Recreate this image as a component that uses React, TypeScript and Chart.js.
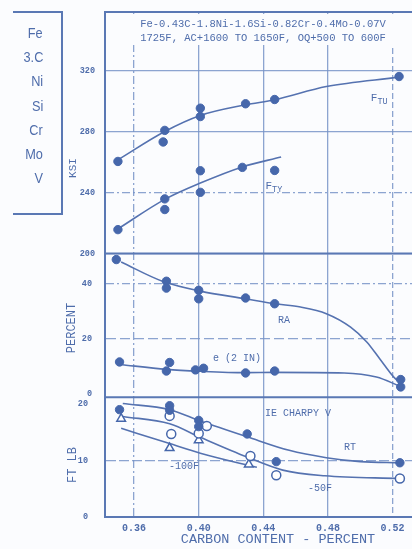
import React, { useEffect, useRef } from 'react';
import { Chart, registerables } from 'chart.js';

Chart.register(...registerables);

// ---------- tick labels ----------
const X_TICKS = [0.36, 0.40, 0.44, 0.48, 0.52];
const KSI_TICKS = [200, 240, 280, 320];
const PCT_TICKS = [0, 20, 40];
const FTLB_TICKS = [0, 10, 20];

// ---------- composition box ----------
const ELEMENTS = ['Fe', '3.C', 'Ni', 'Si', 'Cr', 'Mo', 'V'];

// ---------- strength (KSI) ----------
const FTU_C = [0.350, 0.379, 0.378, 0.401, 0.401, 0.429, 0.447, 0.524];
const FTU_KSI = [260.5, 280.9, 273.3, 295.5, 290.0, 298.4, 301.2, 316.3];
const FTU_CURVE_C = [0.350, 0.379, 0.401, 0.429, 0.447, 0.479, 0.524];
const FTU_CURVE = [261.6, 280.2, 290.7, 297.7, 301.0, 309.7, 315.9];

const FTY_C = [0.350, 0.379, 0.379, 0.401, 0.401, 0.427, 0.447];
const FTY_KSI = [215.7, 235.9, 228.9, 254.4, 240.2, 256.6, 254.6];
const FTY_CURVE_C = [0.350, 0.379, 0.401, 0.427, 0.451];
const FTY_CURVE = [216.2, 235.6, 246.3, 256.9, 263.4];

// ---------- ductility (PERCENT) ----------
const RA_C = [0.349, 0.380, 0.380, 0.400, 0.400, 0.429, 0.447, 0.525];
const RA_PCT = [48.8, 40.9, 38.4, 37.6, 34.5, 34.8, 32.7, 5.1];
const RA_CURVE_C = [0.352, 0.378, 0.401, 0.429, 0.447, 0.463, 0.479, 0.494, 0.504, 0.512, 0.5215, 0.5245];
const RA_CURVE = [47.9, 40.8, 37.3, 34.5, 32.7, 31.5, 29.1, 24.2, 18.8, 12.7, 5.5, 4.2];

const EL_C = [0.351, 0.382, 0.380, 0.398, 0.403, 0.429, 0.447, 0.525];
const EL_PCT = [11.5, 11.3, 8.2, 8.6, 9.2, 7.5, 8.2, 2.4];
const EL_CURVE_C = [0.351, 0.380, 0.401, 0.429, 0.447, 0.490, 0.510, 0.5245];
const EL_CURVE = [10.6, 8.8, 8.1, 7.6, 7.7, 7.5, 6.0, 2.7];

// ---------- Charpy V (FT LB) ----------
const RT_C = [0.351, 0.382, 0.382, 0.400, 0.400, 0.430, 0.448, 0.5245];
const RT_FTLB = [19.0, 19.7, 18.9, 17.1, 16.0, 14.7, 9.8, 9.6];
const RT_CURVE_C = [0.353, 0.382, 0.401, 0.430, 0.456, 0.479, 0.500, 0.5245];
const RT_CURVE = [20.1, 19.0, 17.0, 14.2, 11.8, 10.5, 9.8, 9.6];

const M50_C = [0.382, 0.383, 0.400, 0.405, 0.432, 0.448, 0.5245];
const M50_FTLB = [17.9, 14.7, 14.8, 16.1, 10.8, 7.4, 6.8];
const M50_CURVE_C = [0.353, 0.382, 0.401, 0.430, 0.452, 0.478, 0.5245];
const M50_CURVE = [17.8, 16.5, 14.1, 10.6, 8.3, 7.3, 6.8];

const M100_C = [0.352, 0.382, 0.400, 0.431];
const M100_FTLB = [17.4, 12.2, 13.6, 9.3];
const M100_CURVE_C = [0.352, 0.382, 0.401, 0.430, 0.436];
const M100_CURVE = [15.7, 13.0, 11.3, 9.2, 8.8];

// ---------- styles ----------
const BG = '#fbfcfe';
const POINT = '#4667ab';
const LINE = '#5572b0';
const GRID = 'rgba(120,148,200,0.85)';
const AXIS = '#5a78b4';
const TEXT = '#4f6dab';
const MONO = '"Liberation Mono", "DejaVu Sans Mono", monospace';

const pts = (xs: number[], ys: number[]) => xs.map((x, i) => ({ x, y: ys[i] }));

const curve = (xs: number[], ys: number[], axis: string) => ({
  type: 'line' as const,
  data: pts(xs, ys),
  yAxisID: axis,
  borderColor: LINE,
  borderWidth: 1.6,
  pointRadius: 0,
  fill: false,
  cubicInterpolationMode: 'monotone' as const,
  order: 2,
});

const marks = (xs: number[], ys: number[], axis: string, kind: 'filled' | 'open' | 'tri') => ({
  type: 'scatter' as const,
  data: pts(xs, ys),
  yAxisID: axis,
  showLine: false,
  pointStyle: kind === 'tri' ? 'triangle' : 'circle',
  pointRadius: kind === 'tri' ? 5 : kind === 'open' ? 4.5 : 4.2,
  backgroundColor: kind === 'filled' ? POINT : '#ffffff',
  borderColor: POINT,
  borderWidth: kind === 'filled' ? 1 : 1.5,
  order: 1,
});

const dashFor = (map: Record<string, number[]>) => (ctx: any) => {
  if (!ctx || !ctx.tick) return [];
  return map[String(ctx.tick.value)] || [];
};

const gridColorFor = (hidden: number[]) => (ctx: any) => {
  if (ctx && ctx.tick && hidden.includes(ctx.tick.value)) return 'rgba(0,0,0,0)';
  return GRID;
};

const annotations = {
  id: 'annotations',
  beforeDatasetsDraw(chart: any) {
    const { ctx, chartArea: ca } = chart;
    const yP = chart.scales.yPct;
    ctx.save();
    // clear area behind the header text
    ctx.fillStyle = BG;
    ctx.fillRect(ca.left + 2, ca.top + 2, ca.right - ca.left - 2, 31);
    ctx.strokeStyle = AXIS;
    ctx.lineWidth = 2;
    ctx.beginPath();
    ctx.moveTo(ca.left, ca.top);
    ctx.lineTo(ca.right, ca.top);
    ctx.moveTo(ca.left, yP.top);
    ctx.lineTo(ca.right, yP.top);
    ctx.moveTo(ca.left, yP.bottom);
    ctx.lineTo(ca.right, yP.bottom);
    ctx.stroke();
    ctx.restore();
  },
  afterDraw(chart: any) {
    const { ctx } = chart;
    const xs = chart.scales.x;
    const put = (text: string, x: number, y: number, axis: string, size = 10) => {
      const px = xs.getPixelForValue(x);
      const py = chart.scales[axis].getPixelForValue(y);
      ctx.font = `${size}px ${MONO}`;
      ctx.fillText(text, px, py);
    };
    const sub = (main: string, s: string, x: number, y: number, axis: string) => {
      const px = xs.getPixelForValue(x);
      const py = chart.scales[axis].getPixelForValue(y);
      ctx.textAlign = 'left';
      ctx.font = `11px ${MONO}`;
      ctx.fillText(main, px, py);
      const w = ctx.measureText(main).width;
      ctx.font = `8.5px ${MONO}`;
      ctx.fillText(s, px + w, py + 4);
      ctx.textAlign = 'center';
    };
    ctx.save();
    ctx.fillStyle = TEXT;
    ctx.textAlign = 'center';
    ctx.textBaseline = 'middle';

    // header
    ctx.font = `10.5px ${MONO}`;
    ctx.fillText('Fe-0.43C-1.8Ni-1.6Si-0.82Cr-0.4Mo-0.07V', 263, 24);
    ctx.fillText('1725F, AC+1600 TO 1650F, OQ+500 TO 600F', 263, 38);

    // curve labels
    sub('F', 'TU', 0.5065, 302.3, 'yKsi');
    sub('F', 'TY', 0.4413, 244.5, 'yKsi');
    put('RA', 0.4528, 26.7, 'yPct');
    put('e (2 IN)', 0.4237, 12.8, 'yPct');
    put('IE CHARPY V', 0.4614, 18.4, 'yFt');
    put('RT', 0.4936, 12.4, 'yFt');
    put('-100F', 0.3909, 9.0, 'yFt');
    put('-50F', 0.475, 5.1, 'yFt');

    // axis titles
    const vert = (text: string, x: number, y: number, size: number) => {
      ctx.save();
      ctx.translate(x, y);
      ctx.rotate(-Math.PI / 2);
      ctx.font = `${size}px ${MONO}`;
      ctx.fillText(text, 0, 0);
      ctx.restore();
    };
    vert('KSI', 73, 168, 11);
    vert('PERCENT', 72, 328, 12);
    vert('FT LB', 73, 465, 12);
    ctx.font = `13.5px ${MONO}`;
    ctx.fillText('CARBON CONTENT - PERCENT', 278, 539);
    ctx.restore();
  },
};

const yBase = (weight: number, min: number, max: number, ticks: number[], pad: number) => ({
  type: 'linear' as const,
  position: 'left' as const,
  stack: 'panels',
  stackWeight: weight,
  min,
  max,
  afterBuildTicks: (s: any) => {
    s.ticks = ticks.map((v) => ({ value: v }));
  },
  afterFit: (s: any) => {
    s.width = 105;
    s.paddingTop = 0;
    s.paddingBottom = 0;
  },
  ticks: {
    padding: pad,
    color: TEXT,
    font: { family: MONO, size: 8.5, weight: 'bold' as const },
  },
});

export default function App() {
  const ref = useRef<HTMLCanvasElement | null>(null);

  useEffect(() => {
    document.body.style.margin = '0';
    if (!ref.current) return;
    const chart = new Chart(ref.current, {
      type: 'scatter',
      data: {
        datasets: [
          curve(FTU_CURVE_C, FTU_CURVE, 'yKsi'),
          marks(FTU_C, FTU_KSI, 'yKsi', 'filled'),
          curve(FTY_CURVE_C, FTY_CURVE, 'yKsi'),
          marks(FTY_C, FTY_KSI, 'yKsi', 'filled'),
          curve(RA_CURVE_C, RA_CURVE, 'yPct'),
          marks(RA_C, RA_PCT, 'yPct', 'filled'),
          curve(EL_CURVE_C, EL_CURVE, 'yPct'),
          marks(EL_C, EL_PCT, 'yPct', 'filled'),
          curve(RT_CURVE_C, RT_CURVE, 'yFt'),
          curve(M50_CURVE_C, M50_CURVE, 'yFt'),
          curve(M100_CURVE_C, M100_CURVE, 'yFt'),
          marks(RT_C, RT_FTLB, 'yFt', 'filled'),
          marks(M50_C, M50_FTLB, 'yFt', 'open'),
          marks(M100_C, M100_FTLB, 'yFt', 'tri'),
        ] as any,
      },
      options: {
        animation: false,
        responsive: false,
        events: [],
        layout: { autoPadding: false, padding: { top: 12, left: 0, right: 0, bottom: 0 } },
        plugins: { legend: { display: false }, tooltip: { enabled: false } },
        scales: {
          yFt: {
            ...yBase(120, 0, 21.2, FTLB_TICKS, 17),
            grid: { color: gridColorFor([0, 20]), lineWidth: 1.3, drawTicks: false },
            border: { color: AXIS, width: 2, dash: dashFor({ '10': [10, 3] }) },
          },
          yPct: {
            ...yBase(144, -1.35, 51, PCT_TICKS, 13),
            grid: { color: gridColorFor([0]), lineWidth: 1.3, drawTicks: false },
            border: { color: AXIS, width: 2, dash: dashFor({ '40': [8, 3, 2, 3], '20': [10, 4] }) },
          },
          yKsi: {
            ...yBase(242, 200, 358.7, KSI_TICKS, 10),
            grid: { color: GRID, lineWidth: 1.3, drawTicks: false },
            border: { color: AXIS, width: 2, dash: dashFor({ '240': [8, 3, 2, 3] }) },
          },
          x: {
            type: 'linear',
            position: 'bottom',
            min: 0.342,
            max: 0.532,
            afterBuildTicks: (s: any) => {
              s.ticks = X_TICKS.map((v) => ({ value: v }));
            },
            afterFit: (s: any) => {
              s.height = 32;
              s.paddingLeft = 0;
              s.paddingRight = 0;
            },
            ticks: {
              padding: 5,
              color: TEXT,
              autoSkip: false,
              maxRotation: 0,
              font: { family: MONO, size: 10, weight: 'bold' },
              callback: (v: any) => Number(v).toFixed(2),
            },
            grid: { color: GRID, lineWidth: 1.3, drawTicks: false },
            border: { color: AXIS, width: 2, dash: dashFor({ '0.36': [8, 3, 2, 3], '0.52': [6, 3] }) },
          },
        } as any,
      },
      plugins: [annotations],
    });
    return () => chart.destroy();
  }, []);

  return (
    <div style={{ position: 'relative', width: 412, height: 549, background: BG, overflow: 'hidden' }}>
      <canvas ref={ref} width={412} height={549} style={{ position: 'absolute', left: 0, top: 0 }} />
      <div
        style={{
          position: 'absolute',
          left: 13,
          top: 11,
          width: 48,
          height: 200,
          borderTop: `2px solid ${AXIS}`,
          borderRight: `2px solid ${AXIS}`,
          borderBottom: `2px solid ${AXIS}`,
        }}
      />
      {ELEMENTS.map((el, i) => (
        <div
          key={el}
          style={{
            position: 'absolute',
            right: 412 - 43,
            top: 33 + i * 24.2 - 9,
            height: 18,
            lineHeight: '18px',
            fontFamily: '"Liberation Sans", Arial, sans-serif',
            fontSize: 15,
            color: TEXT,
            whiteSpace: 'nowrap',
            textAlign: 'right',
            transform: 'scaleX(0.85)',
            transformOrigin: 'right center',
          }}
        >
          {el}
        </div>
      ))}
    </div>
  );
}
